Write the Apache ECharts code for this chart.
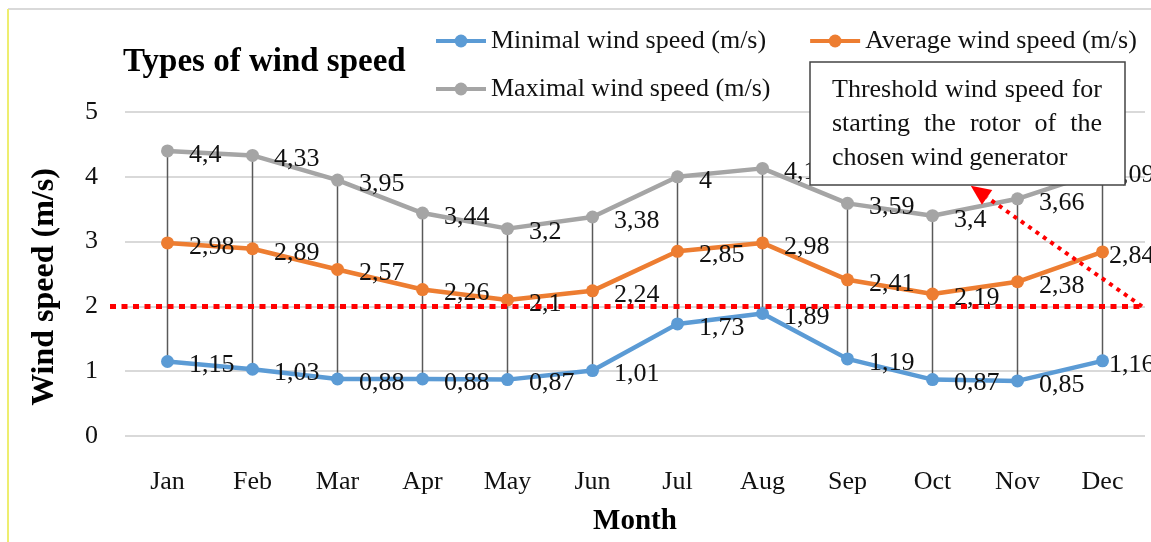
<!DOCTYPE html>
<html>
<head>
<meta charset="utf-8">
<script src="https://cdn.jsdelivr.net/npm/echarts@6/dist/echarts.min.js"></script>
<style>
  html, body { margin: 0; padding: 0; background: #fff; }
  #chart { width: 1151px; height: 542px; }
</style>
</head>
<body>
<div id="chart"></div>
<script>
const months = ['Jan', 'Feb', 'Mar', 'Apr', 'May', 'Jun', 'Jul', 'Aug', 'Sep', 'Oct', 'Nov', 'Dec'];
const minSpeed = [1.15, 1.03, 0.88, 0.88, 0.87, 1.01, 1.73, 1.89, 1.19, 0.87, 0.85, 1.16];
const avgSpeed = [2.98, 2.89, 2.57, 2.26, 2.1, 2.24, 2.85, 2.98, 2.41, 2.19, 2.38, 2.84];
const maxSpeed = [4.4, 4.33, 3.95, 3.44, 3.2, 3.38, 4, 4.13, 3.59, 3.4, 3.66, 4.09];
const threshold = 2;
// where the arrow of the note ends (category index, value)
const notePoint = [9.45, 3.86];
const noteLines = ['Threshold wind speed for', 'starting the rotor of the', 'chosen wind generator'];

const serif = '"Liberation Serif", "Times New Roman", serif';
const RED = '#ff0000';

function commaLabel(p) {
  return String(p.value).replace('.', ',');
}

function lineSeries(name, values, color) {
  // the last label is pulled in so it stays inside the chart, as in the original
  var data = values.map(function (v, i) {
    return i === values.length - 1 ? { value: v, label: { distance: 0 } } : v;
  });
  return {
    name: name,
    type: 'line',
    data: data,
    z: 3,
    symbol: 'circle',
    symbolSize: 13,
    lineStyle: { width: 4.5, color: color },
    itemStyle: { color: color },
    label: {
      show: true,
      position: 'right',
      distance: 15,
      offset: [0, 4],
      color: '#111',
      fontFamily: serif,
      fontSize: 26,
      formatter: commaLabel
    }
  };
}

var legendText = { fontFamily: serif, fontSize: 26, color: '#111' };

var chart = echarts.init(document.getElementById('chart'));

var option = {
  animation: false,
  title: {
    text: 'Types of wind speed',
    left: 118,
    top: 41,
    textStyle: { fontFamily: serif, fontSize: 33, fontWeight: 'bold', color: '#000' }
  },
  legend: [
    {
      data: ['Minimal wind speed (m/s)', 'Average wind speed (m/s)'],
      left: 429,
      top: 23,
      itemWidth: 50,
      itemHeight: 16,
      itemGap: 42,
      lineStyle: { width: 4 },
      textStyle: legendText
    },
    {
      data: ['Maximal wind speed (m/s)'],
      left: 429,
      top: 71,
      itemWidth: 50,
      itemHeight: 16,
      lineStyle: { width: 4 },
      textStyle: legendText
    }
  ],
  grid: { left: 125, right: 6, top: 112, bottom: 106 },
  xAxis: {
    type: 'category',
    data: months,
    name: 'Month',
    nameLocation: 'middle',
    nameGap: 71,
    nameTextStyle: { fontFamily: serif, fontSize: 29, fontWeight: 'bold', color: '#000' },
    axisLine: { show: false },
    axisTick: { show: false },
    axisLabel: { margin: 33, fontFamily: serif, fontSize: 26, color: '#111' }
  },
  yAxis: {
    type: 'value',
    min: 0,
    max: 5,
    interval: 1,
    name: 'Wind speed (m/s)',
    nameLocation: 'middle',
    nameGap: 64,
    nameTextStyle: { fontFamily: serif, fontSize: 32, fontWeight: 'bold', color: '#000', padding: [0, 26, 0, 0] },
    axisLabel: { margin: 27, fontFamily: serif, fontSize: 26, color: '#111' },
    splitLine: { lineStyle: { color: '#d9d9d9', width: 2 } }
  },
  series: [
    {
      name: 'highlow',
      type: 'custom',
      z: 1,
      silent: true,
      data: months.map((m, i) => [i, maxSpeed[i], minSpeed[i]]),
      renderItem: function (params, api) {
        var hi = api.coord([api.value(0), api.value(1)]);
        var lo = api.coord([api.value(0), api.value(2)]);
        return {
          type: 'line',
          shape: { x1: hi[0], y1: hi[1], x2: lo[0], y2: lo[1] },
          style: { stroke: '#595959', lineWidth: 1.5 }
        };
      }
    },
    lineSeries('Minimal wind speed (m/s)', minSpeed, '#5b9bd5'),
    lineSeries('Average wind speed (m/s)', avgSpeed, '#ed7d31'),
    lineSeries('Maximal wind speed (m/s)', maxSpeed, '#a5a5a5')
  ]
};

chart.setOption(option);

// threshold line, arrow and note, placed through the chart's own scales
var yThr = chart.convertToPixel({ gridIndex: 0 }, [0, threshold])[1];
var gridRect = chart.getModel().getComponent('grid', 0).coordinateSystem.getRect();
var rightX = gridRect.x + gridRect.width;
var a = chart.convertToPixel({ gridIndex: 0 }, [9, notePoint[1]]);
var b = chart.convertToPixel({ gridIndex: 0 }, [10, notePoint[1]]);
var tipX = a[0] + (b[0] - a[0]) * (notePoint[0] - 9);
var tipY = a[1];
var startX = rightX - 3;
var ang = Math.atan2(tipY - yThr, tipX - startX);
var hl = 20, hw = 9;
var baseX = tipX - Math.cos(ang) * hl, baseY = tipY - Math.sin(ang) * hl;
var nx = -Math.sin(ang) * hw, ny = Math.cos(ang) * hw;

// note box text, justified like the original
var box = { x: 810, y: 62, w: 315, h: 123 };
var textLeft = 832, textRight = 1102, firstBase = 90, lineGap = 34;
var ctx = document.createElement('canvas').getContext('2d');
ctx.font = '26px ' + serif;
var noteGraphics = [];
noteLines.forEach(function (line, li) {
  var words = line.split(' ');
  var y = firstBase + li * lineGap;
  if (li === noteLines.length - 1) {
    noteGraphics.push({
      type: 'text', silent: true, z: 21, x: textLeft, y: y,
      style: { text: line, fontFamily: serif, fontSize: 26, fill: '#111', verticalAlign: 'middle' }
    });
    return;
  }
  var wordsW = words.reduce((s, w) => s + ctx.measureText(w).width, 0);
  var gap = (textRight - textLeft - wordsW) / (words.length - 1);
  var x = textLeft;
  words.forEach(function (w) {
    noteGraphics.push({
      type: 'text', silent: true, z: 21, x: x, y: y,
      style: { text: w, fontFamily: serif, fontSize: 26, fill: '#111', verticalAlign: 'middle' }
    });
    x += ctx.measureText(w).width + gap;
  });
});

chart.setOption({
  graphic: [
    {
      type: 'line', silent: true, z: 0,
      shape: { x1: 8, y1: 9, x2: 1151, y2: 9 },
      style: { stroke: '#d9d9d9', lineWidth: 2 }
    },
    {
      type: 'line', silent: true, z: 0,
      shape: { x1: 8, y1: 9, x2: 8, y2: 542 },
      style: { stroke: '#eeee70', lineWidth: 2 }
    },
    {
      type: 'line', silent: true, z: 10,
      shape: { x1: 110, y1: yThr, x2: rightX, y2: yThr },
      style: { stroke: RED, lineWidth: 5, lineDash: [6, 5.5] }
    },
    {
      type: 'line', silent: true, z: 10,
      shape: { x1: startX, y1: yThr, x2: baseX, y2: baseY },
      style: { stroke: RED, lineWidth: 4, lineDash: [4, 5] }
    },
    {
      type: 'polygon', silent: true, z: 10,
      shape: { points: [[tipX, tipY], [baseX + nx, baseY + ny], [baseX - nx, baseY - ny]] },
      style: { fill: RED }
    },
    {
      type: 'rect', silent: true, z: 20,
      shape: { x: box.x, y: box.y, width: box.w, height: box.h },
      style: { fill: '#fff', stroke: '#444', lineWidth: 1.5 }
    }
  ].concat(noteGraphics)
});
</script>
</body>
</html>
